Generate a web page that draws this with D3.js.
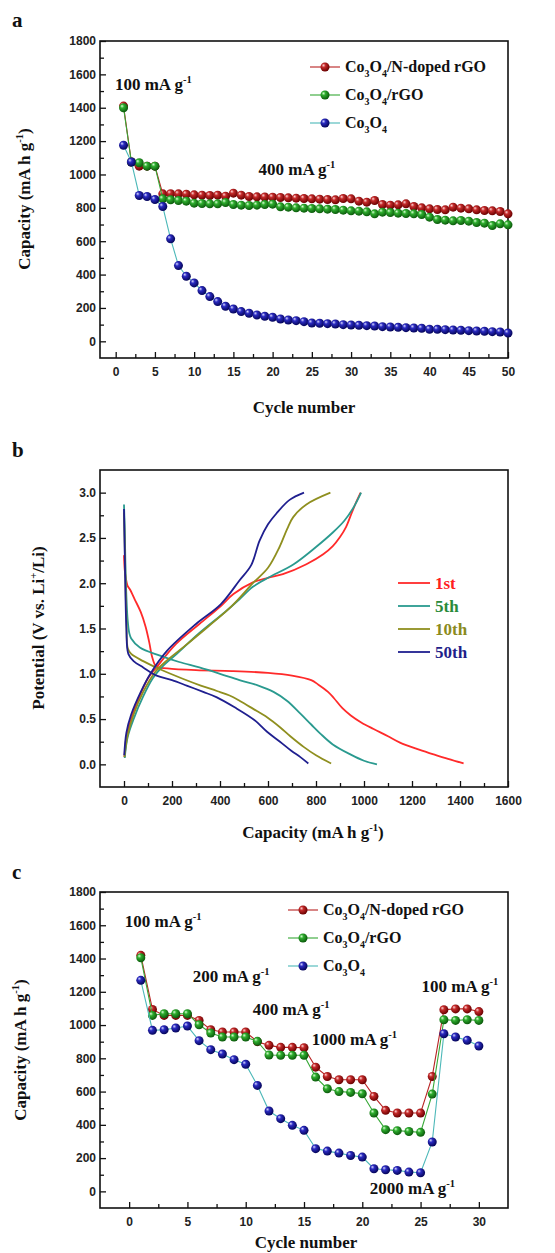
<!DOCTYPE html>
<html>
<head>
<meta charset="utf-8">
<script src="https://cdn.jsdelivr.net/npm/d3@7"></script>
<style>
    body { margin: 0; background: #fff; }
    svg { display: block; }
</style>
</head>
<body>
<script>
// Three stacked panels: (a) cycling at 400 mA/g, (b) voltage profiles,
// (c) rate capability.

// ---- data -------------------------------------------------------------
var seriesNames = ["Co_{3}O_{4}/N-doped rGO", "Co_{3}O_{4}/rGO", "Co_{3}O_{4}"];

// panel a, capacity per cycle (cycles 1..50)
var capA_nrgo = [1410, 1075, 1050, 1050, 1050, 884, 885, 884, 882, 878,
    876, 874, 876, 870, 888, 876, 868, 866, 865, 864,
    862, 860, 858, 856, 854, 852, 850, 848, 856, 854,
    840, 834, 844, 820, 816, 818, 824, 808, 800, 794,
    790, 788, 804, 798, 794, 788, 784, 782, 778, 764];
var capA_rgo = [1400, 1075, 1070, 1050, 1050, 854, 848, 844, 840, 828,
    826, 824, 824, 832, 820, 816, 814, 816, 820, 822,
    806, 804, 800, 798, 796, 794, 792, 790, 786, 782,
    780, 776, 764, 774, 772, 768, 766, 764, 760, 744,
    730, 726, 722, 724, 720, 712, 708, 694, 704, 698];
var capA_co = [1175, 1075, 874, 868, 850, 808, 614, 454, 390, 350,
    304, 268, 238, 210, 194, 178, 168, 158, 150, 144,
    134, 128, 124, 118, 110, 108, 106, 104, 100, 98,
    96, 94, 92, 88, 86, 84, 82, 80, 78, 72,
    72, 70, 68, 66, 64, 62, 60, 58, 56, 50];

// panel c, capacity per cycle (cycles 1..30)
var capC_nrgo = [1419, 1094, 1058, 1058, 1058, 1028, 972, 958, 958, 958,
    900, 878, 866, 866, 864, 747, 691, 671, 671, 671,
    571, 487, 471, 471, 471, 691, 1092, 1097, 1097, 1081];
var capC_rgo = [1405, 1058, 1068, 1068, 1068, 1002, 952, 928, 928, 928,
    902, 820, 818, 818, 818, 687, 617, 600, 595, 587,
    471, 371, 365, 360, 355, 585, 1032, 1028, 1032, 1028];
var capC_co = [1269, 968, 972, 982, 994, 906, 852, 826, 792, 764,
    637, 483, 437, 397, 367, 257, 242, 230, 216, 206,
    136, 130, 126, 116, 112, 297, 948, 928, 908, 874];

// panel b, [capacity, potential] pairs
var cycleNames = ["1st", "5th", "10th", "50th"];
var dis1 = [[0, 2.31], [3, 2.15], [8, 2.05], [15, 1.97], [25, 1.93],
    [45, 1.82], [70, 1.68], [90, 1.52], [105, 1.35], [118, 1.18],
    [135, 1.08], [180, 1.06], [300, 1.04], [450, 1.03], [600, 1.01],
    [700, 0.98], [780, 0.93], [810, 0.88], [850, 0.8], [875, 0.73],
    [910, 0.62], [945, 0.54], [990, 0.46], [1040, 0.39], [1100, 0.31],
    [1150, 0.24], [1220, 0.17], [1290, 0.11], [1350, 0.06], [1415, 0.01]];
var chg1 = [[2, 0.08], [10, 0.3], [30, 0.5], [60, 0.72], [100, 0.95],
    [135, 1.07], [217, 1.33], [314, 1.55], [400, 1.74], [456, 1.88],
    [537, 2.01], [600, 2.06], [662, 2.1], [760, 2.21], [830, 2.32],
    [870, 2.41], [900, 2.51], [925, 2.62], [942, 2.73], [965, 2.88],
    [986, 3.0]];
var dis5 = [[0, 2.87], [3, 2.6], [8, 2.0], [15, 1.6], [22, 1.45],
    [30, 1.39], [66, 1.29], [150, 1.2], [230, 1.13], [314, 1.07],
    [400, 1.0], [481, 0.93], [560, 0.87], [623, 0.8], [680, 0.7],
    [735, 0.56], [780, 0.44], [818, 0.34], [870, 0.22], [943, 0.11],
    [1000, 0.04], [1054, 0.0]];
var chg5 = [[3, 0.07], [15, 0.3], [40, 0.5], [80, 0.75], [120, 0.95],
    [160, 1.08], [220, 1.22], [314, 1.45], [420, 1.68], [480, 1.82],
    [537, 1.96], [600, 2.06], [707, 2.21], [800, 2.4], [870, 2.56],
    [918, 2.69], [955, 2.83], [988, 3.0]];
var dis10 = [[0, 2.78], [4, 2.3], [10, 1.6], [16, 1.28], [30, 1.22],
    [80, 1.14], [150, 1.05], [250, 0.94], [320, 0.87], [387, 0.81],
    [440, 0.76], [483, 0.7], [540, 0.61], [596, 0.52], [650, 0.41],
    [693, 0.31], [750, 0.19], [800, 0.1], [863, 0.01]];
var chg10 = [[2, 0.08], [15, 0.32], [40, 0.55], [80, 0.8], [130, 1.02],
    [180, 1.15], [250, 1.3], [350, 1.52], [450, 1.75], [537, 2.0],
    [600, 2.17], [648, 2.4], [680, 2.6], [705, 2.73], [760, 2.87],
    [860, 3.0]];
var dis50 = [[0, 2.82], [4, 2.2], [10, 1.5], [18, 1.22], [40, 1.14],
    [80, 1.07], [136, 0.98], [200, 0.93], [261, 0.87], [330, 0.8],
    [387, 0.74], [461, 0.63], [543, 0.49], [596, 0.36], [650, 0.25],
    [697, 0.15], [735, 0.08], [768, 0.01]];
var chg50 = [[1, 0.1], [10, 0.35], [30, 0.55], [70, 0.8], [110, 1.0],
    [178, 1.25], [300, 1.55], [404, 1.77], [481, 2.03], [530, 2.2],
    [565, 2.47], [600, 2.65], [635, 2.77], [690, 2.92], [750, 3.0]];

// tick labels
var ticksCycleA = [0, 5, 10, 15, 20, 25, 30, 35, 40, 45, 50];
var ticksCycleC = [0, 5, 10, 15, 20, 25, 30];
var ticksCap = [0, 200, 400, 600, 800, 1000, 1200, 1400, 1600, 1800];
var ticksCapB = [0, 200, 400, 600, 800, 1000, 1200, 1400, 1600];
var ticksV = [0.0, 0.5, 1.0, 1.5, 2.0, 2.5, 3.0];

// ---- styles -----------------------------------------------------------
var SERIF = "'Liberation Serif', 'Times New Roman', serif";
var SANS = "'Liberation Sans', Arial, sans-serif";
var ballColor = [
    ["#ffd6d6", "#c42a2a", "#6a0000"],
    ["#dcffd6", "#2fae2f", "#0b5a0b"],
    ["#d8d8ff", "#2a2ac0", "#05055a"]
];
var lineColor = ["#b82222", "#36a836", "#4cb8b8"];
var curveColor = ["#ff2a2a", "#2a9a8f", "#8f8f1f", "#1f1f8f"];
var curveText = ["#ff2020", "#2a8a3a", "#8a8a20", "#1f1f8a"];

var W = 555, H = 1253;
var svg = d3.select("body").append("svg")
    .attr("width", W)
    .attr("height", H);

var defs = svg.append("defs");
ballColor.forEach(function(c, i) {
    var g = defs.append("radialGradient")
        .attr("id", "ball" + i)
        .attr("cx", "40%").attr("cy", "40%").attr("r", "60%")
        .attr("fx", "32%").attr("fy", "30%");
    g.append("stop").attr("offset", "0%").attr("stop-color", c[0]);
    g.append("stop").attr("offset", "35%").attr("stop-color", c[1]);
    g.append("stop").attr("offset", "100%").attr("stop-color", c[2]);
});

// text with _{sub} and ^{sup} pieces
function richText(sel, str, size) {
    var re = /([_^])\{([^}]*)\}/g, last = 0, m, shift = 0;
    function add(t, pos) {
        var target = pos === 0 ? 0 : (pos > 0 ? size * 0.3 : -size * 0.42);
        sel.append("tspan")
            .attr("dy", target - shift)
            .attr("font-size", pos ? size * 0.62 : size)
            .text(t);
        shift = target;
    }
    while ((m = re.exec(str)) !== null) {
        if (m.index > last) add(str.slice(last, m.index), 0);
        add(m[2], m[1] === "_" ? 1 : -1);
        last = re.lastIndex;
    }
    if (last < str.length) add(str.slice(last), 0);
    return sel;
}

function label(x, y, str, size, opt) {
    opt = opt || {};
    var t = svg.append("text")
        .attr("x", x).attr("y", y)
        .attr("font-family", SERIF)
        .attr("font-weight", "bold")
        .attr("font-size", size)
        .attr("fill", opt.fill || "#111")
        .attr("text-anchor", opt.anchor || "start");
    if (opt.rotate) {
        t.attr("transform", "rotate(-90," + x + "," + y + ")");
    }
    return richText(t, str, size);
}

function midpoints(arr) {
    return arr.slice(1).map(function(v, i) { return (v + arr[i]) / 2; });
}

// frame with inward ticks on the bottom and left
function drawFrame(x, y, xt, yt, xfmt, yfmt) {
    var g = svg.append("g");
    var x0 = x.range()[0], x1 = x.range()[1];
    var y0 = y.range()[0], y1 = y.range()[1];

    var xAxis = d3.axisBottom(x).tickValues(xt).tickSize(-6)
        .tickPadding(9).tickFormat(xfmt);
    var xMinor = d3.axisBottom(x).tickValues(midpoints(xt)).tickSize(-4)
        .tickFormat("");
    var yAxis = d3.axisLeft(y).tickValues(yt).tickSize(-6)
        .tickPadding(4).tickFormat(yfmt);
    var yMinor = d3.axisLeft(y).tickValues(midpoints(yt)).tickSize(-4)
        .tickFormat("");

    [xAxis, xMinor].forEach(function(a) {
        g.append("g")
            .attr("transform", "translate(0," + y0 + ")")
            .call(a);
    });
    [yAxis, yMinor].forEach(function(a) {
        g.append("g")
            .attr("transform", "translate(" + x0 + ",0)")
            .call(a);
    });
    g.selectAll(".domain").remove();
    g.selectAll(".tick line").attr("stroke", "#111").attr("stroke-width", 1.3);
    g.selectAll(".tick text")
        .attr("font-family", SANS)
        .attr("font-weight", "bold")
        .attr("font-size", 12)
        .attr("fill", "#222");

    g.append("rect")
        .attr("x", x0).attr("y", y1)
        .attr("width", x1 - x0).attr("height", y0 - y1)
        .attr("fill", "none")
        .attr("stroke", "#111")
        .attr("stroke-width", 1.6);
}

function drawBalls(x, y, series) {
    series.forEach(function(vals, i) {
        var pts = vals.map(function(v, k) { return [k + 1, v]; });
        svg.append("path")
            .datum(pts)
            .attr("fill", "none")
            .attr("stroke", lineColor[i])
            .attr("stroke-width", 1.1)
            .attr("d", d3.line()
                .x(function(d) { return x(d[0]); })
                .y(function(d) { return y(d[1]); }));
        svg.append("g").selectAll("circle")
            .data(pts)
            .enter()
            .append("circle")
            .attr("cx", function(d) { return x(d[0]); })
            .attr("cy", function(d) { return y(d[1]); })
            .attr("r", 4.5)
            .attr("fill", "url(#ball" + i + ")");
    });
}

function ballLegend(lx, ly, gap) {
    seriesNames.forEach(function(name, i) {
        var yy = ly + i * gap;
        svg.append("line")
            .attr("x1", lx).attr("x2", lx + 30)
            .attr("y1", yy).attr("y2", yy)
            .attr("stroke", lineColor[i])
            .attr("stroke-width", 1.1);
        svg.append("circle")
            .attr("cx", lx + 15).attr("cy", yy).attr("r", 4.5)
            .attr("fill", "url(#ball" + i + ")");
        label(lx + 35, yy + 5, name, 16);
    });
}

// ---- panel a ----------------------------------------------------------
var xA = d3.scaleLinear().domain([-2, 50]).range([100, 508]);
var yA = d3.scaleLinear().domain([-100, 1800]).range([358, 41]);
drawFrame(xA, yA, ticksCycleA, ticksCap, d3.format("d"), d3.format("d"));
drawBalls(xA, yA, [capA_nrgo, capA_rgo, capA_co]);
ballLegend(310, 67, 28);
label(xA(-0.1), yA(1506), "100 mA g^{-1}", 17);
label(xA(18.2), yA(996), "400 mA g^{-1}", 17);
label(12, 27, "a", 21);
label(304, 413, "Cycle number", 17, {anchor: "middle"});
label(30, 199, "Capacity (mA h g^{-1})", 17, {anchor: "middle", rotate: true});

// ---- panel b ----------------------------------------------------------
var xB = d3.scaleLinear().domain([-100, 1600]).range([100, 508]);
var yB = d3.scaleLinear().domain([-0.25, 3.25]).range([787, 470]);
drawFrame(xB, yB, ticksCapB, ticksV, d3.format("d"), d3.format(".1f"));

var vLine = d3.line()
    .curve(d3.curveCatmullRom.alpha(0.5))
    .x(function(d) { return xB(d[0]); })
    .y(function(d) { return yB(d[1]); });
var profiles = [[dis1, chg1], [dis5, chg5], [dis10, chg10], [dis50, chg50]];
profiles.forEach(function(pair, i) {
    pair.forEach(function(c) {
        svg.append("path")
            .datum(c)
            .attr("fill", "none")
            .attr("stroke", curveColor[i])
            .attr("stroke-width", 1.8)
            .attr("d", vLine);
    });
});
cycleNames.forEach(function(name, i) {
    var yy = 583 + i * 23;
    svg.append("line")
        .attr("x1", 398).attr("x2", 430)
        .attr("y1", yy).attr("y2", yy)
        .attr("stroke", curveColor[i])
        .attr("stroke-width", 1.8);
    label(435, yy + 6, name, 17, {fill: curveText[i]});
});
label(12, 457, "b", 21);
label(313, 838, "Capacity (mA h g^{-1})", 17, {anchor: "middle"});
label(44, 628, "Potential (V vs. Li^{+}/Li)", 17,
    {anchor: "middle", rotate: true});

// ---- panel c ----------------------------------------------------------
var xC = d3.scaleLinear().domain([-2.5, 32.5]).range([100, 508]);
var yC = d3.scaleLinear().domain([-100, 1800]).range([1208, 892]);
drawFrame(xC, yC, ticksCycleC, ticksCap, d3.format("d"), d3.format("d"));
drawBalls(xC, yC, [capC_nrgo, capC_rgo, capC_co]);
ballLegend(288, 910, 28);
label(xC(-0.37), yC(1589), "100 mA g^{-1}", 17);
label(xC(5.46), yC(1259), "200 mA g^{-1}", 17);
label(xC(10.6), yC(1058), "400 mA g^{-1}", 17);
label(xC(15.67), yC(878), "1000 mA g^{-1}", 17);
label(xC(25.08), yC(1199), "100 mA g^{-1}", 17);
label(xC(20.64), yC(-14), "2000 mA g^{-1}", 17);
label(12, 879, "c", 21);
label(306, 1248, "Cycle number", 17, {anchor: "middle"});
label(26, 1050, "Capacity (mA h g^{-1})", 17, {anchor: "middle", rotate: true});
</script>
</body>
</html>
